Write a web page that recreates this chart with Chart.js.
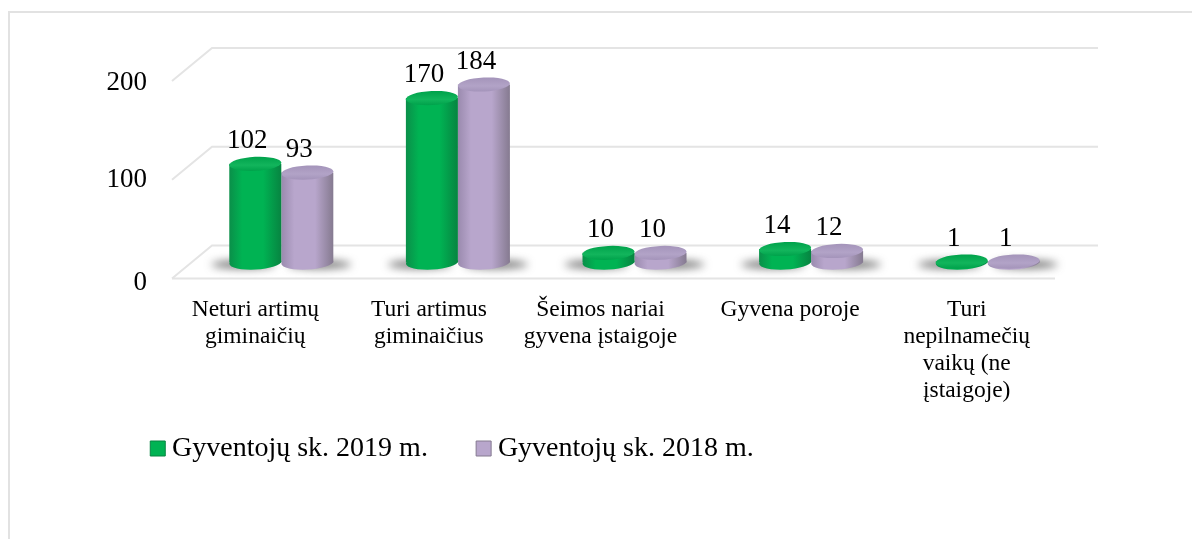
<!DOCTYPE html>
<html><head><meta charset="utf-8">
<style>html,body{margin:0;padding:0;background:#fff;overflow:hidden}
#f{position:absolute;left:8px;top:11px;width:1190px;height:540px;border:2px solid #e2e2e2;border-bottom:none;border-right:none}
#w{position:absolute;left:0;top:0;width:1192px;height:539px}</style>
<script src="https://cdn.jsdelivr.net/npm/chart.js@4"></script></head>
<body><div id="f"></div><div id="w"><canvas id="c" width="1192" height="539"></canvas></div>
<script>
const categories=[["Neturi artimų","giminaičių"],["Turi artimus","giminaičius"],["Šeimos nariai","gyvena įstaigoje"],["Gyvena poroje"],["Turi","nepilnamečių","vaikų (ne","įstaigoje)"]];
const series2019=[102,170,10,14,1];
const series2018=[93,184,10,12,1];
const seriesNames=["Gyventojų sk. 2019 m.","Gyventojų sk. 2018 m."];
const yTicks=[0,100,200];
const labelNudge=[-5,-8,-13,0,0];
const tickNudge=[4,0,2];
const FONT="'Liberation Serif','Times New Roman',serif";
const CAT=0.589, RY=7, TILT=-0.05;
const pal=[
 {edgeL:'#0a8f49',mid:'#00b353',edgeR:'#078441',cap:'#00a24b',capHi:'#12b55c'},
 {edgeL:'#9a8aae',mid:'#b8a6cc',edgeR:'#857a90',cap:'#a494ba',capHi:'#b2a3c7'}
];
function barGrad(chart,di,i){
  const x=chart.scales.x; if(!x||!x.width) return pal[di].mid;
  const c=x.getPixelForValue(i), w=x.width/categories.length*CAT/2, l=c+(di-1)*w;
  const g=chart.ctx.createLinearGradient(l,0,l+w,0), p=pal[di];
  g.addColorStop(0,p.edgeL);g.addColorStop(.25,p.mid);g.addColorStop(.65,p.mid);g.addColorStop(1,p.edgeR);
  return g;
}
function ell(ctx,x,y,rx,ry){ctx.beginPath();ctx.ellipse(x,y,rx,ry,TILT,0,Math.PI*2);ctx.closePath();}
const decor={id:'decor',
  afterLayout(chart){
    const l=chart.legend; l.top-=30.5; l.bottom-=30.5;
    chart.scales.x.getLabelItems(chart.chartArea).forEach((it,i)=>{
      const t=it.options.translation; it.options.translation=[t[0]+labelNudge[i],t[1]];});
    chart.scales.y.getLabelItems(chart.chartArea).forEach((it,i)=>{
      const t=it.options.translation; it.options.translation=[t[0],t[1]+tickNudge[i]];});
  },
  beforeDatasetsDraw(chart){
    const {ctx,scales:{y}}=chart, a=chart.chartArea, dx=40, dy=33, L=a.left-21, R=a.right+22, FR=1055;
    ctx.save();ctx.strokeStyle='#e4e4e4';ctx.lineWidth=2;
    y.ticks.forEach(t=>{const p=y.getPixelForValue(t.value);
      ctx.beginPath();ctx.moveTo(L,p);ctx.lineTo(L+dx,p-dy);ctx.lineTo(R,p-dy);ctx.stroke();
      if(t.value===0){ctx.beginPath();ctx.moveTo(L,p);ctx.lineTo(FR,p);ctx.stroke();}
    });
    chart.getSortedVisibleDatasetMetas().forEach(m=>m.data.forEach(b=>{
      const s=m.index===0?-1:1;
      ctx.save();ctx.filter='blur(4px)';ctx.fillStyle='rgba(70,70,70,.75)';
      ctx.beginPath();ctx.ellipse(b.x+s*12,b.base+2,b.width/2+6,4,0,0,Math.PI*2);ctx.fill();ctx.restore();
    }));
    ctx.restore();
  },
  beforeDatasetDraw(chart,args){
    const ctx=chart.ctx, m=args.meta;
    ctx.save();
    m.data.forEach((b,i)=>{ctx.fillStyle=barGrad(chart,m.index,i);ell(ctx,b.x,b.base,b.width/2,RY);ctx.fill();});
    ctx.restore();
  },
  afterDatasetDraw(chart,args){
    const ctx=chart.ctx, m=args.meta, p=pal[m.index];
    ctx.save();
    m.data.forEach(b=>{
      const g=ctx.createLinearGradient(0,b.y-RY,0,b.y+RY);
      g.addColorStop(0,p.cap);g.addColorStop(.6,p.capHi);g.addColorStop(1,p.cap);
      ctx.fillStyle=g;ell(ctx,b.x,b.y,b.width/2,RY);ctx.fill();
    });
    ctx.restore();
  },
  afterDraw(chart){
    const ctx=chart.ctx;
    ctx.save();ctx.fillStyle='#000';ctx.font="27px "+FONT;ctx.textAlign='center';ctx.textBaseline='middle';
    chart.getSortedVisibleDatasetMetas().forEach(m=>m.data.forEach((b,i)=>{
      ctx.fillText(String(chart.data.datasets[m.index].data[i]),b.x-8,b.y-23);
    }));
    ctx.restore();
  }
};
new Chart(document.getElementById('c'),{
  type:'bar',
  data:{labels:categories,datasets:[
    {label:seriesNames[0],data:series2019,yAxisID:'yBars',backgroundColor:c=>barGrad(c.chart,0,c.dataIndex),clip:false},
    {label:seriesNames[1],data:series2018,yAxisID:'yBars',backgroundColor:c=>barGrad(c.chart,1,c.dataIndex),clip:false}
  ]},
  options:{
    responsive:false,animation:false,devicePixelRatio:1,
    categoryPercentage:CAT,barPercentage:1,
    layout:{padding:{left:102,right:116,top:81,bottom:36}},
    plugins:{
      tooltip:{enabled:false},title:{display:false},
      legend:{position:'bottom',align:'start',
        labels:{color:'#000',font:{family:FONT,size:28},boxWidth:0.5,boxHeight:15,usePointStyle:true,pointStyle:'rect',padding:55.5,
          generateLabels(chart){return seriesNames.map((t,i)=>({text:t,fillStyle:pal[i].mid,strokeStyle:pal[i].edgeR,lineWidth:1,pointStyle:'rect',datasetIndex:i,fontColor:'#000'}));}}}
    },
    scales:{
      x:{grid:{display:false},border:{display:false},
         afterFit(s){s.height=131;},
         ticks:{color:'#000',font:{family:FONT,size:23.5,lineHeight:1.15},padding:9.5,labelOffset:-21,maxRotation:0,minRotation:0,autoSkip:false}},
      y:{min:0,max:200,position:'left',grid:{display:false},border:{display:false},
         afterFit(s){s.width=91;},
         afterBuildTicks(s){s.ticks=yTicks.map(v=>({value:v}));},
         ticks:{color:'#000',font:{family:FONT,size:27},padding:38}},
      yBars:{display:false,min:-16.49,max:187.63,position:'right'}
    }
  },
  plugins:[decor]
});
</script></body></html>
